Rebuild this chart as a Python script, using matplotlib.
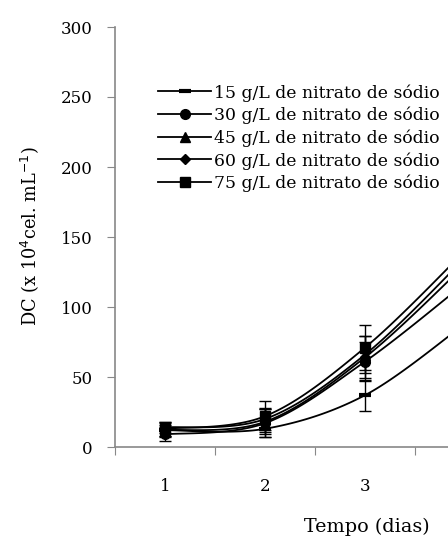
import numpy as np
import matplotlib.pyplot as plt

# days of culture and mean cell density (x 10^4 cel/mL) per sodium nitrate level
days = [1, 2, 3, 4]
labels = ['15 g/L de nitrato de sódio', '30 g/L de nitrato de sódio',
          '45 g/L de nitrato de sódio', '60 g/L de nitrato de sódio',
          '75 g/L de nitrato de sódio']
dc_15 = [12, 13, 37, 88]
dc_30 = [9, 17, 61, 117]
dc_45 = [14, 20, 66, 135]
dc_60 = [12, 18, 64, 130]
dc_75 = [13, 22, 71, 140]
err_15 = [5, 6, 11, 12]
err_30 = [5, 10, 14, 15]
err_45 = [4, 8, 13, 15]
err_60 = [4, 9, 15, 15]
err_75 = [5, 11, 16, 16]
markers = ['_', 'o', '^', 'D', 's']
msizes = [8, 7, 7, 5, 7]

series = [dc_15, dc_30, dc_45, dc_60, dc_75]
errors = [err_15, err_30, err_45, err_60, err_75]


def smooth(x, y, n=40):
    """Excel-style smoothed line: cubic Bezier with control points
    taken from neighbouring points (Catmull-Rom, tension 1/6)."""
    p = np.column_stack([x, y]).astype(float)
    pts = [p[0]]
    for i in range(len(p) - 1):
        p0 = p[i - 1] if i > 0 else p[i]
        p3 = p[i + 2] if i + 2 < len(p) else p[i + 1]
        c1 = p[i] + (p[i + 1] - p0) / 6
        c2 = p[i + 1] - (p3 - p[i]) / 6
        t = np.linspace(0, 1, n)[1:, None]
        seg = ((1 - t)**3 * p[i] + 3 * (1 - t)**2 * t * c1
               + 3 * (1 - t) * t**2 * c2 + t**3 * p[i + 1])
        pts.extend(seg)
    pts = np.array(pts)
    return pts[:, 0], pts[:, 1]


plt.rcParams['font.family'] = ['DejaVu Serif']

fig = plt.figure(figsize=(4.48, 5.45), dpi=100)
W, H = 448, 545
ax = fig.add_axes([115 / W, (H - 447) / H, (W - 115) / W, (447 - 27) / H])

handles = []
for vals, errs, m, ms, lab in zip(series, errors, markers, msizes, labels):
    sx, sy = smooth(days, vals)
    ax.plot(sx, sy, color='black', lw=1.3)
    ax.errorbar(days, vals, yerr=errs, fmt='none', ecolor='black',
                elinewidth=1, capsize=4, capthick=1)
    ax.plot(days, vals, linestyle='none', marker=m, markersize=ms,
            color='black', mew=3 if m == '_' else 1)
    h, = ax.plot([], [], color='black', lw=1.3, marker=m, markersize=ms,
                 mew=3 if m == '_' else 1)
    handles.append(h)

ax.set_xlim(0.5, 0.5 + (W - 115) / 100)
ax.set_ylim(0, 300)
ax.set_yticks([0, 50, 100, 150, 200, 250, 300])
ax.set_xticks([0.5, 1.5, 2.5, 3.5])
ax.set_xticklabels([])
ax.set_xticks([1, 2, 3], minor=True)
ax.set_xticklabels(['1', '2', '3'], minor=True)
ax.tick_params(axis='x', which='minor', length=0, pad=22, labelsize=12)
ax.tick_params(axis='x', which='major', length=6, color='#888888')
ax.tick_params(axis='y', length=6, color='#888888', pad=10, labelsize=12)
for s in ['top', 'right']:
    ax.spines[s].set_visible(False)
for s in ['left', 'bottom']:
    ax.spines[s].set_color('#888888')
    ax.spines[s].set_linewidth(1.2)

fig.legend(handles, labels, loc='upper left',
           bbox_to_anchor=(158 / W, 1 - 84 / H), frameon=False,
           fontsize=12.4, handlelength=3.1, handletextpad=0.15,
           labelspacing=0.3, borderaxespad=0, borderpad=0)

fig.text(30 / W, 1 - 236 / H, 'DC (x 10$^4$cel. mL$^{-1}$)', rotation=90,
         ha='center', va='center', fontsize=12.8)
fig.text(367 / W, 1 - 527 / H, 'Tempo (dias)', ha='center', va='center',
         fontsize=13.8)

fig.savefig('out.png', dpi=100)
